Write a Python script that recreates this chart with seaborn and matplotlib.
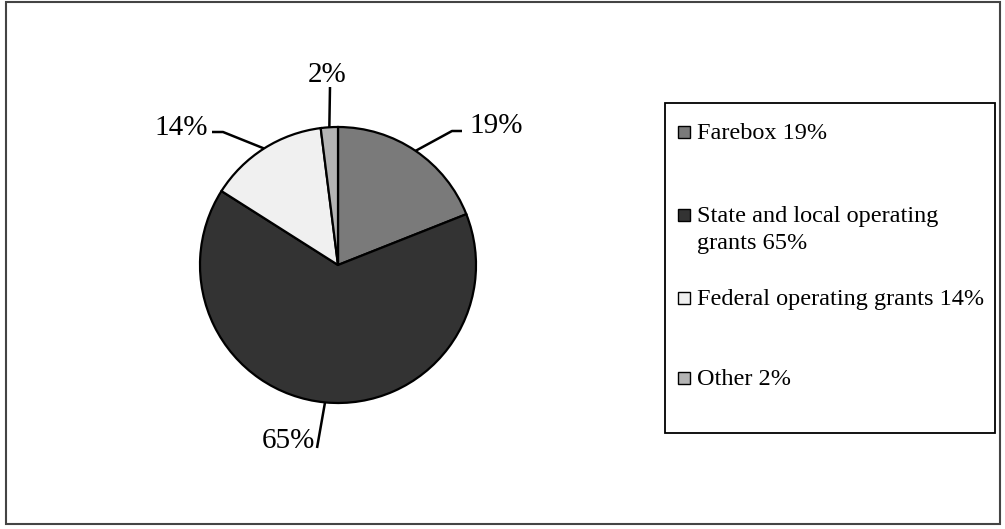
import numpy as np
import matplotlib
matplotlib.use('Agg')
import matplotlib.pyplot as plt
import seaborn as sns
from matplotlib.patches import Rectangle

# Chart data
categories = ['Farebox', 'State and local operating\ngrants', 'Federal operating grants', 'Other']
shares = [19, 65, 14, 2]
colors = ['#7a7a7a', '#333333', '#f0f0f0', '#b4b4b4']

sns.set_theme(style='white')
plt.rcParams['font.family'] = ['Liberation Serif', 'DejaVu Serif']

W, H = 1005, 529
fig = plt.figure(figsize=(W / 100, H / 100), dpi=100)
ax = fig.add_axes([0, 0, 1, 1])

# outer frame
ax.add_patch(Rectangle((6, 2), 994, 522, fill=False, edgecolor='#444444', lw=1.5))

# pie (y axis inverted, so clockwise drawing needs counterclock=True)
cx, cy, r = 338, 265, 138
wedges, _ = ax.pie(shares, colors=colors, startangle=-90, counterclock=True,
                   center=(cx, cy), radius=r, frame=True,
                   wedgeprops=dict(edgecolor='black', linewidth=1.6))
ax.set_xlim(0, W)
ax.set_ylim(H, 0)
ax.axis('off')

# leader lines and label anchors
leaders = [
    dict(elbow=(452, 131), end=(462, 131), text=(469, 133), ha='left'),
    dict(elbow=(317, 448), end=(317, 448), text=(315, 448), ha='right'),
    dict(elbow=(223, 132), end=(212, 132), text=(208, 135), ha='right'),
    dict(elbow=(330, 87), end=(330, 87), text=(327, 82), ha='center'),
]
for w, val, ld in zip(wedges, shares, leaders):
    mid = np.deg2rad((w.theta1 + w.theta2) / 2)
    px, py = cx + r * np.cos(mid), cy + r * np.sin(mid)
    xs = [px, ld['elbow'][0], ld['end'][0]]
    ys = [py, ld['elbow'][1], ld['end'][1]]
    ax.plot(xs, ys, color='black', lw=1.8, solid_capstyle='butt')
    ax.text(ld['text'][0], ld['text'][1], f'{val}%', fontsize=21,
            ha=ld['ha'], va='baseline', color='black')

# legend
legend_labels = [f'{c} {v}%' for c, v in zip(categories, shares)]
ax.add_patch(Rectangle((665, 103), 330, 330, fill=False, edgecolor='black', lw=1.3))
rows_y = [132, 215, 298, 378]
for lab, col, yy in zip(legend_labels, colors, rows_y):
    ax.add_patch(Rectangle((678, yy - 6), 12, 12, facecolor=col, edgecolor='black', lw=1))
    ax.text(697, yy - 9, lab, fontsize=17.5, ha='left', va='top', color='black',
            linespacing=1.35)

fig.savefig('out.png', dpi=100, facecolor='white')
